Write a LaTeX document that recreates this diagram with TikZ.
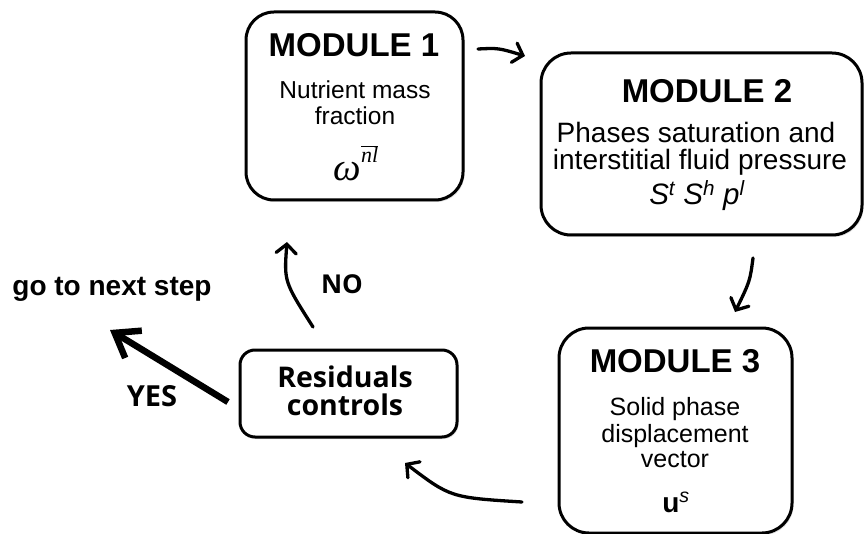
\documentclass[tikz,border=0pt]{standalone}
\usepackage{fontspec}
\setmainfont{Liberation Sans}
\newfontfamily\osans{Open Sans}
\newfontfamily\tserif{Liberation Serif}
\usetikzlibrary{arrows.meta,shadows}
\tikzset{
  box/.style={draw, line width=3pt, fill=white, inner sep=0pt,
    drop shadow={shadow xshift=1.5pt, shadow yshift=-2pt, opacity=0.25}},
  txt/.style={inner sep=0pt, anchor=base},
  head/.style={txt, font=\fontsize{33}{33}\selectfont\bfseries},
  desca/.style={txt, font=\fontsize{24.5}{26}\selectfont},
  descb/.style={txt, font=\fontsize{28}{28}\selectfont},
  descc/.style={txt, font=\fontsize{25}{26}\selectfont},
  lab/.style={txt, font=\fontsize{28.5}{28.5}\selectfont\osans\bfseries},
  arr/.style={line width=3.3pt, line cap=round, -{Straight Barb[length=9pt,width=20pt,line cap=round]}},
  bigarr/.style={line width=6.5pt, -{Straight Barb[length=22pt,width=32pt]}}
}
\begin{document}
\begin{tikzpicture}[x=1pt,y=-1pt]
\useasboundingbox (0,0) rectangle (866,534);

% boxes
\node[box, rounded corners=28pt, minimum width=217pt, minimum height=188pt] (m1) at (354.5,106) {};
\node[box, rounded corners=30pt, minimum width=321pt, minimum height=182pt] (m2) at (701.5,144) {};
\node[box, rounded corners=30pt, minimum width=233pt, minimum height=205pt] (m3) at (675.5,430.5) {};
\node[box, rounded corners=15pt, minimum width=217pt, minimum height=87pt] (res) at (348.5,393.5) {};

% module 1 text
\node[head] (m1h) at (354,57) {MODULE 1};
\node[desca] (m1a) at (355,99) {Nutrient mass};
\node[desca] (m1b) at (355,125) {fraction};
\node[txt] (m1s) at (356,181) {\fontsize{39}{39}\selectfont\tserif\itshape ω\raisebox{18pt}{\fontsize{22}{22}\selectfont$\overline{\hbox{\tserif\itshape nl}}$}};

% module 2 text
\node[head] (m2h) at (707,103) {MODULE 2};
\node[descb] (m2a) at (696,143) {Phases saturation and};
\node[descb] (m2b) at (700,170) {interstitial fluid pressure};
\node[txt] (m2s) at (697,205) {\fontsize{29.5}{29.5}\selectfont\itshape S\textsuperscript{t} S\textsuperscript{h} p\textsuperscript{l}};

% module 3 text
\node[head] (m3h) at (675,372) {MODULE 3};
\node[descc] (m3a) at (675,415) {Solid phase};
\node[descc] (m3b) at (675,442) {displacement};
\node[descc] (m3c) at (675,467) {vector};
\node[txt] (m3s) at (676,512) {\fontsize{28}{28}\selectfont\bfseries u\textsuperscript{\mdseries\itshape s}};

% residuals text
\node[lab] (ra) at (345,387) {Residuals};
\node[lab] (rb) at (345,415) {controls};

% labels
\node[txt, font=\fontsize{28}{28}\selectfont\bfseries] (go) at (112,295) {go to next step};
\node[lab, font=\fontsize{26}{26}\selectfont\osans\bfseries] (no) at (342,293) {NO};
\node[lab, font=\fontsize{29}{29}\selectfont\osans\bfseries] (yes) at (152,406) {YES};

% arrow end points
\coordinate (a12s) at (478,49);
\coordinate (a12e) at (525,56);
\coordinate (a23s) at (753,258);
\coordinate (a23e) at (735,312);
\coordinate (a3rs) at (522,502);
\coordinate (a3re) at (405,463);
\coordinate (ar1s) at (313,327);
\coordinate (ar1e) at (287,242);
\coordinate (ays) at (228,402);
\coordinate (aye) at (110,330);

\draw[arr] (a12s) .. controls (498.5,48) .. (a12e);
\draw[arr] (a23s) .. controls (750,281) .. (a23e);
\draw[arr] (a3rs) .. controls (450.5,497.5) .. (a3re);
\draw[arr] (ar1s) .. controls (284,281.5) .. (ar1e);
\draw[bigarr] (ays) -- (aye);
\end{tikzpicture}
\end{document}
